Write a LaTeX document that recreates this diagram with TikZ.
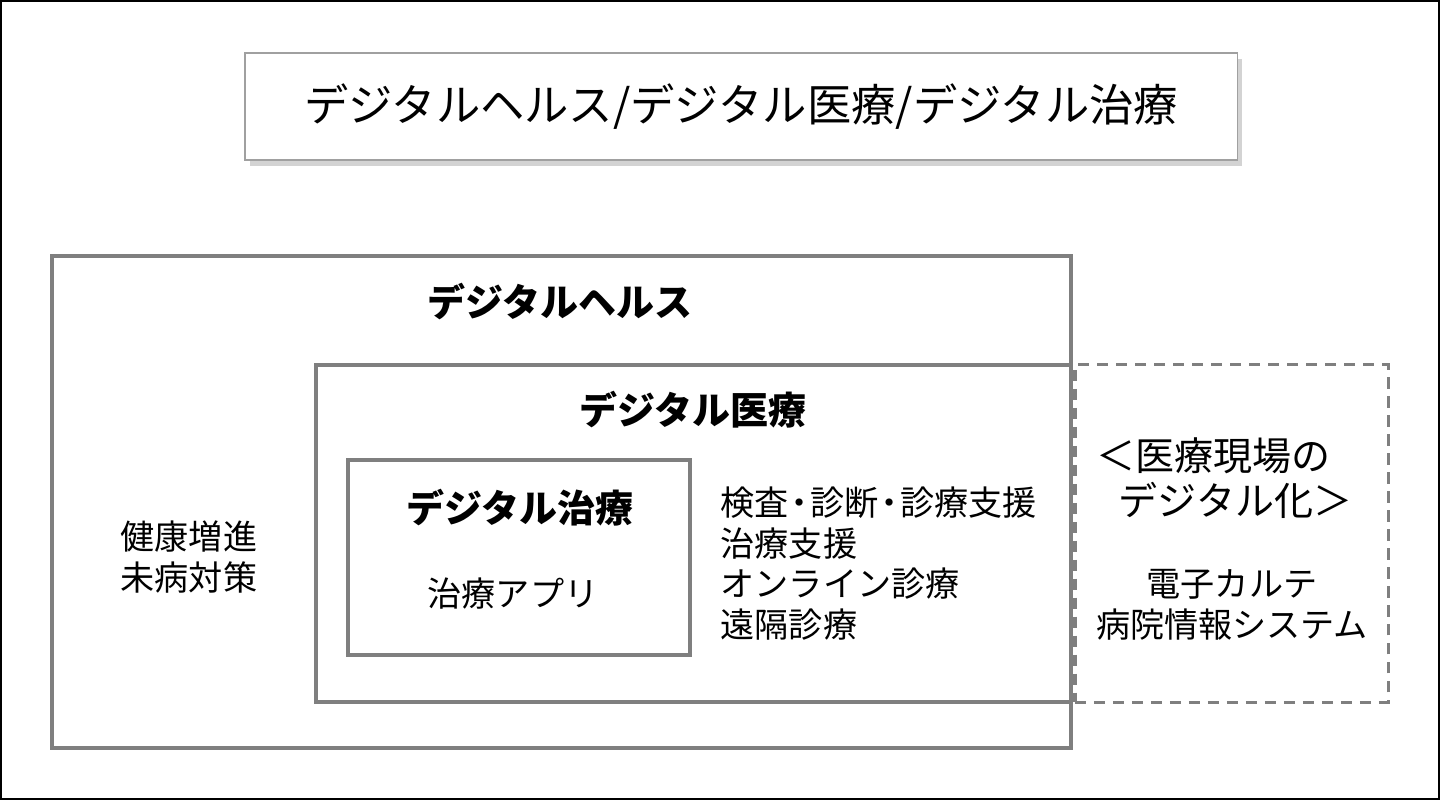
\documentclass[tikz,border=0pt]{standalone}
\usepackage{fontspec}
\usepackage{tikz}
\usetikzlibrary{positioning, shadows}
\newfontfamily\jp{Noto Sans CJK JP}
\definecolor{boxgray}{RGB}{127,127,127}
\definecolor{titlegray}{RGB}{160,160,160}
\newcommand{\ndot}{\kern-1.8pt・\kern-1.8pt}

\begin{document}
\begin{tikzpicture}[
    x=0.01cm, y=-0.01cm,
    titlebox/.style={rectangle, draw=titlegray, line width=0.45pt, fill=white,
                     drop shadow={opacity=0.35, shadow xshift=0.05cm, shadow yshift=-0.06cm},
                     font=\jp\fontsize{12.6}{14}\selectfont, inner sep=0pt},
    area/.style={rectangle, draw=boxgray, line width=1.15pt, inner sep=0pt},
    dasharea/.style={rectangle, draw=boxgray, line width=0.9pt, dash pattern=on 3.2pt off 2.2pt, inner sep=0pt},
    head/.style={font=\jp\bfseries\fontsize{10.8}{12.5}\selectfont, inner sep=0pt},
    txt/.style={font=\jp\fontsize{9.7}{11.6}\selectfont, align=left, inner sep=0pt},
    bigtxt/.style={font=\jp\fontsize{11.1}{12.6}\selectfont, align=left, inner sep=0pt}
]
\useasboundingbox (0,0) rectangle (1440,800);
\draw[line width=0.6pt] (1,1) rectangle (1439,799);

% Title
\node[titlebox, minimum width=9.92cm, minimum height=1.07cm] (title) at (741,106.5)
    {デジタルヘルス/デジタル医療/デジタル治療};

% Boxes
\node[area, minimum width=10.19cm, minimum height=4.92cm] (health) at (561.5,502) {};
\node[dasharea, minimum width=3.13cm, minimum height=3.37cm] (site) at (1231.5,533.5) {};
\node[area, minimum width=7.55cm, minimum height=3.37cm] (medical) at (693.5,533.5) {};
\node[area, minimum width=3.42cm, minimum height=1.95cm] (therapy) at (519,557.5) {};

% Headings
\node[head] (healthlbl) at (560,302) {デジタルヘルス};
\node[head] (medlbl) at (693,410) {デジタル医療};
\node[head] (therlbl) at (520,508) {デジタル治療};

% Contents
\node[txt] (app) at (513,594) {治療アプリ};
\node[txt, anchor=west] (prevent) at (120,557) {健康増進\\未病対策};
\node[txt, anchor=west] (medlist) at (720,563.5) {検査\ndot 診断\ndot 診療支援\\治療支援\\オンライン診療\\遠隔診療};
\node[bigtxt, anchor=west] (sitelbl) at (1096,478) {＜医療現場の\\\hspace{0.22cm}デジタル化＞};
\node[txt, align=center] (sitelist) at (1232,605) {電子カルテ\\病院情報システム};

\end{tikzpicture}
\end{document}
